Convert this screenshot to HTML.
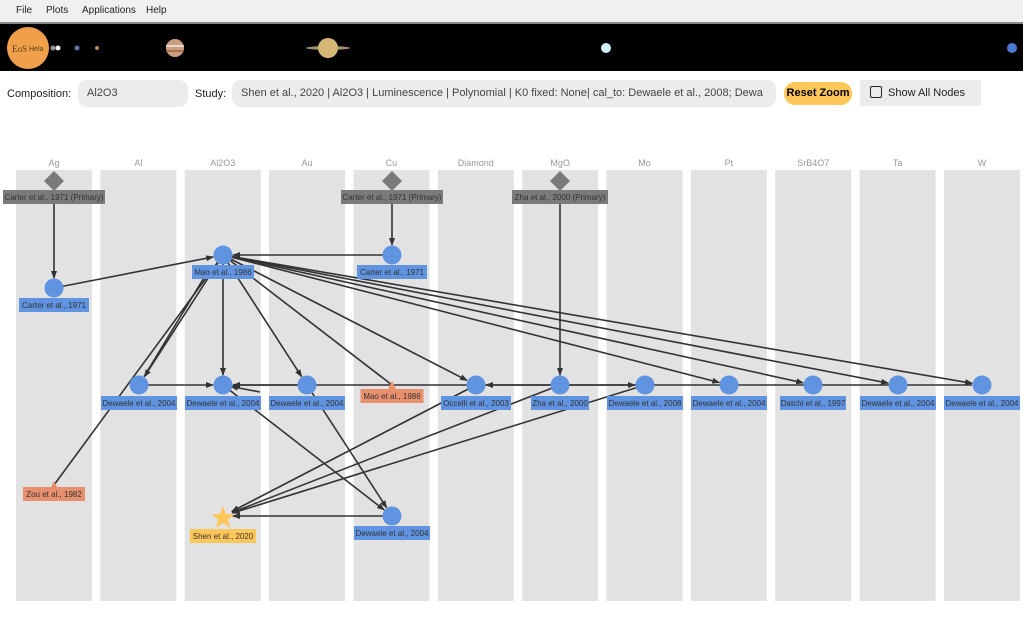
<!DOCTYPE html>
<html><head><meta charset="utf-8"><style>
body{margin:0;width:1023px;height:623px;overflow:hidden;background:#fff;font-family:"Liberation Sans",sans-serif}
.menu{position:absolute;left:0;top:0;width:1023px;height:22px;background:#f0f0f0;border-bottom:2px solid #888;}
.menu span{position:absolute;top:5px;font-size:10px;color:#222}
.banner{position:absolute;left:0;top:24px;width:1023px;height:47px;background:#000}
.lbl{position:absolute;font-size:11px;color:#222;top:88px}
.box{position:absolute;top:80px;height:27px;background:#ececec;border-radius:9px;font-size:11px;color:#444;line-height:27px;padding-left:9px;box-sizing:border-box;white-space:nowrap;overflow:hidden}
</style></head><body>
<div class="menu"><span style="left:16px">File</span><span style="left:46px">Plots</span><span style="left:82px">Applications</span><span style="left:146px">Help</span></div>
<div class="banner">
<svg width="1023" height="47">
<circle cx="28" cy="24" r="21" fill="#f0a04a"/>
<text x="12" y="28" font-size="9" font-family="Liberation Serif" fill="#5a3a1a">EoS</text><text x="29" y="27" font-size="7" fill="#5a3a1a">Hela</text>
<circle cx="53" cy="24" r="2.5" fill="#999"/><circle cx="58" cy="24" r="2.5" fill="#eee"/>
<circle cx="77" cy="24" r="2.5" fill="#5a7aa0"/><circle cx="97" cy="24" r="2" fill="#c08050"/>
<circle cx="175" cy="24" r="9" fill="#c8a080"/><rect x="166" y="21" width="18" height="2" fill="#fff" opacity=".6"/><rect x="166" y="26" width="18" height="2" fill="#a05030" opacity=".6"/>
<ellipse cx="328" cy="24" rx="22" ry="2" fill="#a09070"/><circle cx="328" cy="24" r="10" fill="#d8b878"/>
<circle cx="606" cy="24" r="5" fill="#d0f0ff"/><circle cx="1012" cy="24" r="5" fill="#4a7ad0"/>
</svg></div>
<div class="lbl" style="left:7px">Composition:</div>
<div class="box" style="left:78px;width:110px">Al2O3</div>
<div class="lbl" style="left:195px">Study:</div>
<div class="box" style="left:232px;width:544px">Shen et al., 2020 | Al2O3 | Luminescence | Polynomial | K0 fixed: None| cal_to: Dewaele et al., 2008; Dewa</div>
<div style="position:absolute;left:784px;top:82px;width:68px;height:23px;background:#ffc65a;border-radius:11px;font-size:11px;font-weight:bold;line-height:23px;text-align:center">Reset Zoom</div>
<div style="position:absolute;left:860px;top:80px;width:121px;height:26px;background:#ececec;font-size:11px;line-height:26px;color:#222"><span style="display:inline-block;width:12px;height:12px;border:1.5px solid #222;border-radius:2px;vertical-align:middle;margin:0 6px 2px 10px;box-sizing:border-box"></span>Show All Nodes</div>
<svg id="g" style="position:absolute;left:0;top:0" width="1023" height="623" font-family="Liberation Sans" font-size="8">
<defs><marker id="a" markerWidth="8" markerHeight="8" refX="7" refY="4" orient="auto" markerUnits="userSpaceOnUse"><path d="M0,1 L8,4 L0,7 z" fill="#333"/></marker></defs>
</svg>
<script>
const g=document.getElementById('g');const NS='http://www.w3.org/2000/svg';
function el(t,a,txt){const e=document.createElementNS(NS,t);for(const k in a)e.setAttribute(k,a[k]);if(txt)e.textContent=txt;g.appendChild(e);return e;}
const cols=['Ag','Al','Al2O3','Au','Cu','Diamond','MgO','Mo','Pt','SrB4O7','Ta','W'];
const cx=i=>54+i*84.36;
cols.forEach((c,i)=>{el('rect',{x:cx(i)-38,y:170,width:76,height:431,fill:'#e2e2e2'});el('text',{x:cx(i),y:166,'text-anchor':'middle',fill:'#999','font-size':9},c);});
const R=385;
const N={agP:[54,180],cuP:[392,180],mgP:[560,180],agC:[54,288],mao:[223,255],cuC:[392,255],
al:[139,R],al2:[223,R],au:[307,R],maoO:[392,R],occ:[476,R],zha:[560,R],mo:[645,R],pt:[729,R],sr:[813,R],ta:[898,R],w:[982,R],zou:[54,485],shen:[223,516],cuD:[392,516]};
function ln(a,b,arrow,r){const [x1,y1]=N[a]||a,[x2,y2]=N[b]||b;const dx=x2-x1,dy=y2-y1,d=Math.hypot(dx,dy);r=r===undefined?10:r;
const s1=N[a]?9:0;const at={x1:x1+dx/d*s1,y1:y1+dy/d*s1,x2:x2-dx/d*r,y2:y2-dy/d*r,stroke:'#333','stroke-width':1.6};if(arrow)at['marker-end']='url(#a)';el('line',at);}
el('line',{x1:233,y1:R,x2:972,y2:R,stroke:'#333','stroke-width':1.6});
ln('al','al2',1);ln('au','al2',1);ln('zha','occ',1);ln('zha','mo',1);
ln('agP','agC',1);ln('cuP','cuC',1);ln('mgP','zha',1);
ln('agC','mao',1);ln('cuC','mao',1);
ln('mao','al',1);ln([205,276],'al',0);ln('mao','zou',0,0);
ln('mao','al2',1);ln('mao','au',1);ln('mao','maoO',0,0);ln('mao','occ',1);
ln('mao','pt',1);ln('mao','sr',1);ln('mao','ta',1);ln('mao','w',1);
ln('al2','cuD',1);ln('au','cuD',1);ln('cuD','shen',1);
ln('occ','shen',1);ln('zha','shen',1);ln('mo','shen',1);ln([260,392],'al2',1,8);
function lab(x,y,t,fill,w){w=w||t.length*4.3+8;el('rect',{x:x-w/2,y:y-7,width:w,height:14,fill:fill});el('text',{x:x,y:y+3,'text-anchor':'middle',fill:'#333'},t);}
[['agP',54,'Carter et al., 1971 (Primary)',102],['cuP',392,'Carter et al., 1971 (Primary)',102],['mgP',560,'Zha et al., 2000 (Primary)',96]].forEach(([k,x,t,w])=>{el('path',{d:`M${x},171 L${x+10},181 L${x},191 L${x-10},181z`,fill:'#7a7a7a'});lab(x,197,t,'#7a7a7a',w);});
const B='#6093e0';
[['agC',305,'Carter et al., 1971',70],['mao',272,'Mao et al., 1986',62],['cuC',272,'Carter et al., 1971',70],['al',403,'Dewaele et al., 2004',76],['al2',403,'Dewaele et al., 2004',76],['au',403,'Dewaele et al., 2004',76],['occ',403,'Occelli et al., 2003',70],['zha',403,'Zha et al., 2000',58],['mo',403,'Dewaele et al., 2008',76],['pt',403,'Dewaele et al., 2004',76],['sr',403,'Datchi et al., 1997',66],['ta',403,'Dewaele et al., 2004',76],['w',403,'Dewaele et al., 2004',76],['cuD',533,'Dewaele et al., 2004',76]].forEach(([k,ly,t,w])=>{const [x,y]=N[k];el('circle',{cx:x,cy:y,r:9.5,fill:B});lab(x,ly,t,B,w);});
const O='#e8906e';
el('path',{d:'M392,381 L396,389 L388,389z',fill:O});lab(392,396,'Mao et al., 1986',O,63);
el('path',{d:'M54,481 L58,489 L50,489z',fill:O});lab(54,494,'Zou et al., 1982',O,62);
let p='';for(let i=0;i<10;i++){const r=i%2?5:12,a=-Math.PI/2+i*Math.PI/5;p+=(i?'L':'M')+(223+r*Math.cos(a)).toFixed(1)+','+(518+r*Math.sin(a)).toFixed(1);}
el('path',{d:p+'z',fill:'#ffc65a'});lab(223,536,'Shen et al., 2020','#ffc65a',66);
</script>
</body></html>
